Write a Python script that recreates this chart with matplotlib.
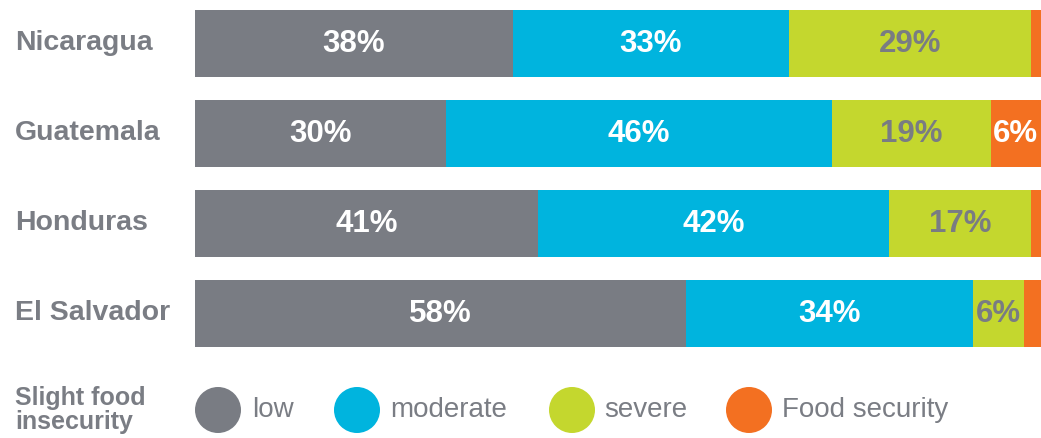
import matplotlib
matplotlib.use("Agg")
import matplotlib.pyplot as plt
from matplotlib.patches import Circle
from matplotlib.transforms import blended_transform_factory
import numpy as np

countries = ["Nicaragua", "Guatemala", "Honduras", "El Salvador"]
categories = ["low", "moderate", "severe", "Food security"]
low = [38, 30, 41, 58]
moderate = [33, 46, 42, 34]
severe = [29, 19, 17, 6]
food_security = [1.2, 6, 1.2, 2]
labels_low = ["38%", "30%", "41%", "58%"]
labels_moderate = ["33%", "46%", "42%", "34%"]
labels_severe = ["29%", "19%", "17%", "6%"]
labels_food = ["", "6%", "", ""]
legend_title = "Slight food\ninsecurity"

colors = ["#797c83", "#00b4de", "#c4d72e", "#f37021"]
text_colors = ["white", "white", "#797c83", "white"]
gray_text = "#7a7d84"
FONT = "Liberation Sans"

W, H = 1041, 438
fig = plt.figure(figsize=(W / 100, H / 100), dpi=100)

series = [low, moderate, severe, food_security]
series_labels = [labels_low, labels_moderate, labels_severe, labels_food]
data = np.array(series, dtype=float)
totals = data.sum(axis=0)
shares = data / totals * 100

ax_bottom = 1 - 358.5 / H
ax = fig.add_axes([195 / W, ax_bottom, 1 - 195 / W, 360 / H])
ypos = np.arange(len(countries))
left = np.zeros(len(countries))
for k in range(len(series)):
    ax.barh(ypos, shares[k], left=left, height=67 / 90, color=colors[k], linewidth=0)
    for i in range(len(countries)):
        lab = series_labels[k][i]
        if lab:
            ax.text(left[i] + shares[k][i] / 2, ypos[i], lab, ha="center", va="center",
                    color=text_colors[k], fontsize=22.5, fontweight="bold", family=FONT)
    left += shares[k]
ax.set_xlim(0, 100)
ax.set_ylim(3.5, -0.5)
ax.axis("off")

trans = blended_transform_factory(fig.transFigure, ax.transData)
for i, c in enumerate(countries):
    ax.text(15 / W, ypos[i], c, transform=trans, ha="left", va="center",
            color=gray_text, fontsize=20.5, fontweight="bold", family=FONT)

# legend
lax = fig.add_axes([0, 0, 1, 1])
lax.set_xlim(0, W)
lax.set_ylim(H, 0)
lax.axis("off")
lax.text(15, 410, legend_title, ha="left", va="center", color=gray_text,
         fontsize=18, fontweight="bold", family=FONT, linespacing=1.0)
circle_x = [218, 357, 572, 749]
text_x = [252, 390, 604, 782]
for k, cat in enumerate(categories):
    lax.add_patch(Circle((circle_x[k], 410), 23, color=colors[k], linewidth=0))
    lax.text(text_x[k], 410, cat, ha="left", va="center", color=gray_text,
             fontsize=20, family=FONT)

fig.savefig("out.png", dpi=100)
